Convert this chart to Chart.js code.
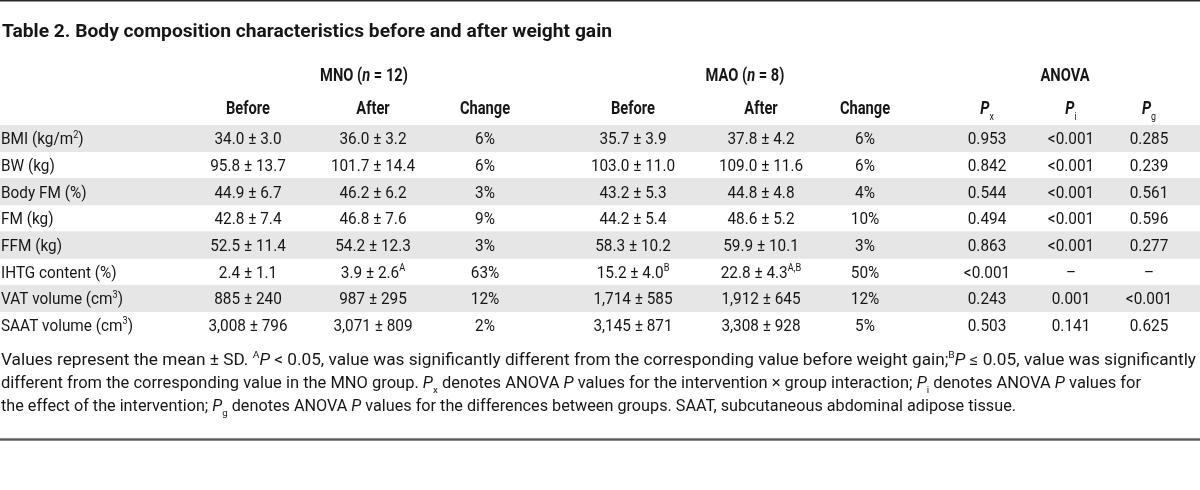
<!DOCTYPE html>
<html><head><meta charset="utf-8">
<script src="https://cdn.jsdelivr.net/npm/chart.js@4.4.0/dist/chart.umd.min.js"></script>
<style>html,body{margin:0;padding:0;background:#fff;}canvas{display:block;}</style>
</head><body>
<canvas id="c" width="1200" height="490"></canvas>
<script>
// ---------- DATA ----------
const title = "Table 2. Body composition characteristics before and after weight gain";
const groupHeaders = ["MNO (*n* = 12)", "MAO (*n* = 8)", "ANOVA"];
const columnHeaders = ["Before","After","Change","Before","After","Change","*P*_{x}","*P*_{i}","*P*_{g}"];
const rowLabels = ["BMI (kg/m^{2})","BW (kg)","Body FM (%)","FM (kg)","FFM (kg)","IHTG content (%)","VAT volume (cm^{3})","SAAT volume (cm^{3})"];
const mnoBefore = ["34.0 ± 3.0","95.8 ± 13.7","44.9 ± 6.7","42.8 ± 7.4","52.5 ± 11.4","2.4 ± 1.1","885 ± 240","3,008 ± 796"];
const mnoAfter  = ["36.0 ± 3.2","101.7 ± 14.4","46.2 ± 6.2","46.8 ± 7.6","54.2 ± 12.3","3.9 ± 2.6^{A}","987 ± 295","3,071 ± 809"];
const mnoChange = ["6%","6%","3%","9%","3%","63%","12%","2%"];
const maoBefore = ["35.7 ± 3.9","103.0 ± 11.0","43.2 ± 5.3","44.2 ± 5.4","58.3 ± 10.2","15.2 ± 4.0^{B}","1,714 ± 585","3,145 ± 871"];
const maoAfter  = ["37.8 ± 4.2","109.0 ± 11.6","44.8 ± 4.8","48.6 ± 5.2","59.9 ± 10.1","22.8 ± 4.3^{A,B}","1,912 ± 645","3,308 ± 928"];
const maoChange = ["6%","6%","4%","10%","3%","50%","12%","5%"];
const pX = ["0.953","0.842","0.544","0.494","0.863","<0.001","0.243","0.503"];
const pI = ["<0.001","<0.001","<0.001","<0.001","<0.001","–","0.001","0.141"];
const pG = ["0.285","0.239","0.561","0.596","0.277","–","<0.001","0.625"];
const footnoteLines = [
  "Values represent the mean ± SD. ^{A}*P* < 0.05, value was significantly different from the corresponding value before weight gain;^{B}*P* ≤ 0.05, value was significantly",
  "different from the corresponding value in the MNO group. *P*_{x} denotes ANOVA *P* values for the intervention × group interaction; *P*_{i} denotes ANOVA *P* values for",
  "the effect of the intervention; *P*_{g} denotes ANOVA *P* values for the differences between groups. SAAT, subcutaneous abdominal adipose tissue."
];
const columns = [mnoBefore, mnoAfter, mnoChange, maoBefore, maoAfter, maoChange, pX, pI, pG];

// ---------- LAYOUT ----------
const TABLE_W = 1200;
const colX = [248, 373, 485, 633, 761, 865, 987, 1071, 1149];
const groupX = [364, 745, 1065];
const ROW_TOP = 125, ROW_H = 26.67;
const TITLE_Y = 30, GROUP_Y = 75, HEAD_Y = 108;
const FOOT_Y = [359, 382, 405];
const FOOT_W = [1195, 1140, 1015];
const BOTTOM_LINE_Y = 439.5;
const shade = rowLabels.map((_, i) => i % 2 === 0 ? [0, TABLE_W] : null);

const INK = '#161616';
const FAM = 'Roboto';

function parse(s){
  const segs=[]; let italic=false, i=0, buf='';
  const push=(t,mode)=>{ if(t) segs.push({t,italic,mode}); };
  while(i<s.length){
    const c=s[i];
    if(c==='*'){push(buf,'n');buf='';italic=!italic;i++;}
    else if((c==='^'||c==='_')&&s[i+1]==='{'){push(buf,'n');buf='';const j=s.indexOf('}',i);push(s.slice(i+2,j),c==='^'?'sup':'sub');i=j+1;}
    else {buf+=c;i++;}
  }
  push(buf,'n');
  return segs;
}
function fontFor(sg, st){
  const sz = sg.mode==='n' ? st.size : st.size*0.6;
  return `${sg.italic?'italic ':''}${sg.mode==='n'?st.weight:400} ${sz}px ${st.family}`;
}
function measure(ctx, s, st){
  return parse(s).reduce((a,sg)=>{ctx.font=fontFor(sg,st);return a+ctx.measureText(sg.t).width*st.sx;},0);
}
function drawRich(ctx, s, x, midY, align, st){
  const segs=parse(s);
  const widths=segs.map(sg=>{ctx.font=fontFor(sg,st);return ctx.measureText(sg.t).width*st.sx;});
  const total=widths.reduce((a,b)=>a+b,0);
  let cx = align==='center' ? x-total/2 : align==='right' ? x-total : x;
  const base = midY + st.size*0.36;
  segs.forEach((sg,k)=>{
    ctx.save();
    ctx.font=fontFor(sg,st); ctx.fillStyle=st.color||INK;
    ctx.textBaseline='alphabetic'; ctx.textAlign='left';
    const dy = sg.mode==='sup' ? -st.size*0.4 : sg.mode==='sub' ? st.size*0.32 : 0;
    ctx.translate(cx, base+dy); ctx.scale(st.sx,1);
    ctx.fillText(sg.t,0,0);
    ctx.restore();
    cx+=widths[k];
  });
}

const tablePlugin = {
  id:'tableText',
  afterDatasetsDraw(chart){
    const ctx=chart.ctx, xs=chart.scales.x, ys=chart.scales.y;
    const body={size:17,weight:400,family:FAM,sx:1};
    body.sx = 67/measure(ctx,"34.0 ± 3.0",body);
    const head={size:18,weight:700,family:FAM,sx:1};
    head.sx = 44/measure(ctx,"Before",head);
    const ttl={size:18.5,weight:700,family:FAM,sx:1};
    ttl.sx = 610/measure(ctx,title,ttl);

    ctx.save();
    ctx.fillStyle='#2a2a2a'; ctx.fillRect(xs.getPixelForValue(0),0,xs.getPixelForValue(TABLE_W),1.5);
    ctx.fillStyle='#5a5a5a'; ctx.fillRect(xs.getPixelForValue(0),BOTTOM_LINE_Y-1.2,xs.getPixelForValue(TABLE_W),2.4);
    ctx.restore();

    drawRich(ctx,title,2,TITLE_Y,'left',ttl);
    groupHeaders.forEach((g,i)=>drawRich(ctx,g,xs.getPixelForValue(groupX[i]),GROUP_Y,'center',head));
    columnHeaders.forEach((h,i)=>drawRich(ctx,h,xs.getPixelForValue(colX[i]),HEAD_Y,'center',head));

    rowLabels.forEach((lab,r)=>{
      const y=ys.getPixelForValue(r);
      drawRich(ctx,lab,1,y,'left',body);
      columns.forEach((col,c)=>drawRich(ctx,col[r],xs.getPixelForValue(colX[c]),y,'center',body));
    });
    footnoteLines.forEach((l,i)=>{
      const foot={size:16,weight:400,family:FAM,sx:1};
      foot.sx = FOOT_W[i]/measure(ctx,l,foot);
      drawRich(ctx,l,1,FOOT_Y[i],'left',foot);
    });
  }
};

new Chart(document.getElementById('c'),{
  type:'bar',
  data:{labels:rowLabels,datasets:[{data:shade,backgroundColor:'#e6e6e6',borderWidth:0,borderSkipped:false,barPercentage:1,categoryPercentage:1}]},
  options:{
    indexAxis:'y',responsive:false,animation:false,events:[],
    layout:{padding:{top:ROW_TOP,bottom:490-ROW_TOP-ROW_H*rowLabels.length,left:0,right:0}},
    scales:{x:{type:'linear',min:0,max:TABLE_W,display:false},y:{display:false}},
    plugins:{legend:{display:false},tooltip:{enabled:false}}
  },
  plugins:[tablePlugin]
});
</script>
</body></html>
